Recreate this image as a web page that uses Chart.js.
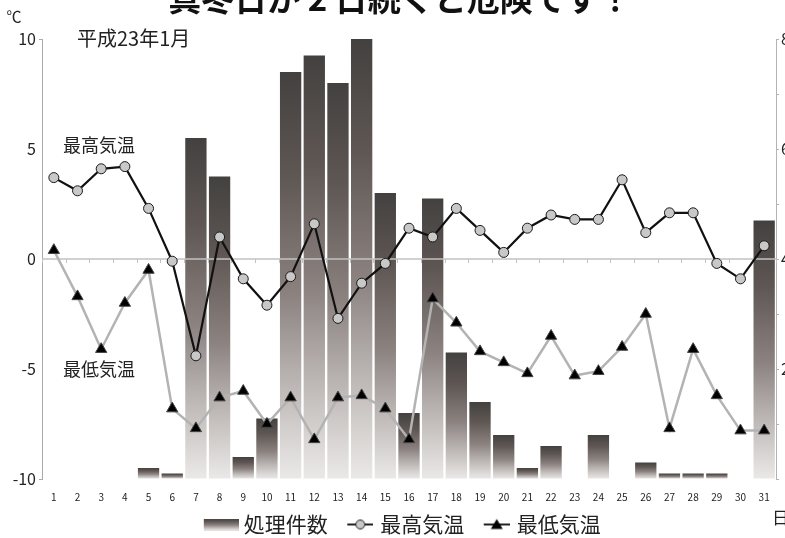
<!DOCTYPE html>
<html><head><meta charset="utf-8">
<script src="https://cdn.jsdelivr.net/npm/chart.js@4/dist/chart.umd.min.js"></script>
<style>
html,body{margin:0;padding:0;overflow:hidden;width:785px;height:538px;background:#fff;}
#wrap{position:absolute;left:0;top:-20px;width:800px;height:565px;}
</style></head><body><div id="wrap"><canvas id="c"></canvas></div>
<script>
const days = ['1','2','3','4','5','6','7','8','9','10','11','12','13','14','15','16','17','18','19','20','21','22','23','24','25','26','27','28','29','30','31'];
const counts = [0,0,0,0,0.2,0.1,6.2,5.5,0.4,1.1,7.4,7.7,7.2,8.0,5.2,1.2,5.1,2.3,1.4,0.8,0.2,0.6,0,0.8,0,0.3,0.1,0.1,0.1,0,4.7];
const maxTemp = [3.7,3.1,4.1,4.2,2.3,-0.1,-4.4,1.0,-0.9,-2.1,-0.8,1.6,-2.7,-1.1,-0.2,1.4,1.0,2.3,1.3,0.3,1.4,2.0,1.8,1.8,3.6,1.2,2.1,2.1,-0.2,-0.9,0.6];
const minTemp = [0.4,-1.7,-4.1,-2.0,-0.5,-6.8,-7.7,-6.3,-6.0,-7.5,-6.3,-8.2,-6.3,-6.2,-6.8,-8.2,-1.8,-2.9,-4.2,-4.7,-5.2,-3.5,-5.3,-5.1,-4.0,-2.5,-7.7,-4.1,-6.2,-7.8,-7.8];
const titleText = '真冬日が 2 日続くと危険です！';
const seriesNames = ['処理件数','最高気温','最低気温'];
const yLeftTicks = [-10,-5,0,5,10];
const yRightLabels = [2,4,6,8];

const JP = "'Noto Sans CJK JP','Noto Sans',sans-serif";
const PSW = 34;

function addStops(g){
  g.addColorStop(0,'#434140');
  g.addColorStop(0.25,'#5e5653');
  g.addColorStop(0.55,'#8c8381');
  g.addColorStop(0.8,'#c3bebc');
  g.addColorStop(1,'#ebe9e8');
  return g;
}
function barGradient(ctx){
  const chart = ctx.chart;
  if (!chart.chartArea || ctx.type !== 'data') return '#777';
  const s = chart.scales.y2;
  const yTop = s.getPixelForValue(ctx.raw);
  const yBot = s.getPixelForValue(0);
  if (!isFinite(yTop) || yBot - yTop < 0.5) return '#777';
  return addStops(chart.ctx.createLinearGradient(0, yTop, 0, yBot));
}
// legend symbols: drawn at the right part of a canvas centred on the legend box
function legendBox(){
  const w = PSW + 11, bw = 35;
  const cv = document.createElement('canvas'); cv.width = w; cv.height = 12;
  const c = cv.getContext('2d');
  c.fillStyle = addStops(c.createLinearGradient(0,0,0,12));
  c.fillRect(w - bw,0,bw,12);
  return cv;
}
function legendLine(kind){
  const w = PSW + 7, lw = 26, x0 = w - lw, cx = x0 + 13;
  const cv = document.createElement('canvas'); cv.width = w; cv.height = 14;
  const c = cv.getContext('2d');
  c.strokeStyle = '#222'; c.lineWidth = 2;
  c.beginPath(); c.moveTo(x0,7); c.lineTo(w,7); c.stroke();
  if (kind === 'circle'){
    c.beginPath(); c.arc(cx,7,4.5,0,Math.PI*2);
    c.fillStyle = '#c8c8c8'; c.fill(); c.lineWidth = 1; c.strokeStyle = '#222'; c.stroke();
  } else {
    c.beginPath(); c.moveTo(cx,1.5); c.lineTo(cx+6,11.5); c.lineTo(cx-6,11.5); c.closePath();
    c.fillStyle = '#000'; c.fill();
  }
  return cv;
}

const overlay = {
  id: 'overlay',
  afterDatasetDraw(chart, args){
    if (args.index !== 0) return;
    const {ctx, chartArea: a, scales} = chart;
    const y0 = scales.y.getPixelForValue(0);
    const xs = scales.x;
    const half = (xs.getPixelForValue(1) - xs.getPixelForValue(0)) / 2;
    ctx.save();
    ctx.strokeStyle = '#c2c2c2'; ctx.lineWidth = 1.5;
    ctx.beginPath(); ctx.moveTo(a.left, y0); ctx.lineTo(a.right, y0); ctx.stroke();
    ctx.lineWidth = 1;
    for (let i = 0; i <= days.length; i++){
      const x = Math.round(xs.getPixelForValue(i) - half) + 0.5;
      ctx.beginPath(); ctx.moveTo(x, y0); ctx.lineTo(x, y0 + 4); ctx.stroke();
    }
    ctx.restore();
  },
  afterDraw(chart){
    const {ctx, chartArea: a} = chart;
    ctx.save();
    ctx.fillStyle = '#222';
    ctx.textBaseline = 'middle';
    ctx.textAlign = 'center';
    ctx.font = '15px ' + JP;
    ctx.fillText('℃', a.left - 28, a.top - 23);
    ctx.textAlign = 'left';
    ctx.font = '20px ' + JP;
    ctx.fillText('平成23年1月', a.left + 35, a.top - 1);
    ctx.font = '18px ' + JP;
    ctx.fillText('最高気温', a.left + 21, a.top + 106);
    ctx.fillText('最低気温', a.left + 21, a.top + 330);
    ctx.font = '17px ' + JP;
    ctx.fillText('日', a.right - 4, a.bottom + 39);
    ctx.restore();
  }
};

new Chart(document.getElementById('c'), {
  data: {
    labels: days,
    datasets: [
      { type:'bar', label: seriesNames[0], data: counts, yAxisID:'y2', order:3,
        backgroundColor: barGradient, borderWidth:0, barPercentage:0.9, categoryPercentage:1 },
      { type:'line', label: seriesNames[1], data: maxTemp, yAxisID:'y', order:1,
        borderColor:'#111', borderWidth:2.2, tension:0,
        pointStyle:'circle', pointRadius:5, pointBackgroundColor:'#c8c8c8',
        pointBorderColor:'#1a1a1a', pointBorderWidth:1 },
      { type:'line', label: seriesNames[2], data: minTemp, yAxisID:'y', order:2,
        borderColor:'#b3b3b3', borderWidth:2.5, tension:0,
        pointStyle:'triangle', pointRadius:6.5, pointBackgroundColor:'#000',
        pointBorderColor:'#444', pointBorderWidth:1 }
    ]
  },
  options: {
    responsive:true, maintainAspectRatio:false, animation:false,
    layout:{padding:0},
    plugins: {
      tooltip:{enabled:false},
      title: { display:true, text:titleText, color:'#111',
        font:{family:JP, size:33, weight:'bold', lineHeight:1},
        padding:{top:2,bottom:24} },
      legend: { position:'bottom',
        labels: { usePointStyle:true, pointStyleWidth:PSW, padding:8, color:'#222',
          font:{family:JP, size:21},
          generateLabels(){
            return [
              {text:seriesNames[0], pointStyle:legendBox(), datasetIndex:0, hidden:false, lineWidth:0, fillStyle:'#666', strokeStyle:'#666', fontColor:'#222'},
              {text:seriesNames[1], pointStyle:legendLine('circle'), datasetIndex:1, hidden:false, lineWidth:0, fillStyle:'#666', strokeStyle:'#666', fontColor:'#222'},
              {text:seriesNames[2], pointStyle:legendLine('tri'), datasetIndex:2, hidden:false, lineWidth:0, fillStyle:'#666', strokeStyle:'#666', fontColor:'#222'}
            ];
          } } }
    },
    scales: {
      x: { type:'category', offset:true,
        grid:{display:false, drawTicks:false}, border:{display:false},
        ticks:{ color:'#222', font:{family:JP, size:10}, padding:12, maxRotation:0, autoSkip:false },
        afterFit(s){ s.height = 27; } },
      y: { position:'left', min:-10, max:10,
        afterBuildTicks(s){ s.ticks = yLeftTicks.map(v => ({value:v})); },
        grid:{ drawOnChartArea:false, drawTicks:true, tickLength:3,
          color:'transparent',
          tickColor: c => (c.tick && Math.abs(c.tick.value) === 10) ? '#aaa' : 'transparent' },
        border:{display:true, color:'#aaa', width:1},
        ticks:{ color:'#222', font:{family:JP, size:16}, padding:3 },
        afterFit(s){ s.width = 42; } },
      y2: { position:'right', min:0, max:8,
        ticks:{ stepSize:1, color:'#222', font:{family:JP, size:16}, padding:2,
          callback: v => yRightLabels.includes(v) ? String(v) : '' },
        grid:{ drawOnChartArea:false, drawTicks:true, tickLength:3, color:'#b4b4b4', tickColor:'#b4b4b4' },
        border:{display:true, color:'#b4b4b4', width:1},
        afterFit(s){ s.width = 24; } }
    }
  },
  plugins:[overlay]
});
</script></body></html>
